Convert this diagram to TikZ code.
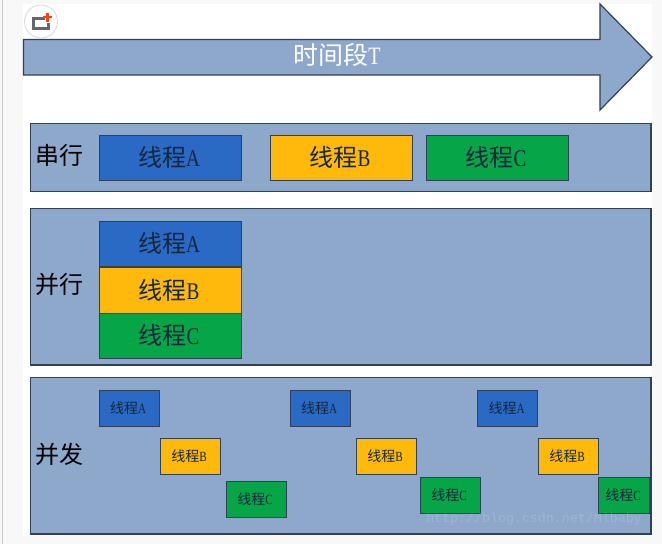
\documentclass[tikz,border=0pt]{standalone}
\usepackage{fontspec}
\setmainfont{Liberation Serif}
\newfontfamily\cjk{Noto Sans CJK SC}
\newfontfamily\wmfont{Liberation Mono}
\definecolor{pagebg}{HTML}{F8F8F8}
\definecolor{panel}{HTML}{8EA8CB}
\definecolor{edgeC}{HTML}{2F4058}
\definecolor{blueT}{HTML}{2A6AC4}
\definecolor{amberT}{HTML}{FFB90A}
\definecolor{greenT}{HTML}{06A548}
\definecolor{inkT}{HTML}{14263C}
\tikzset{
  x=1pt,y=-1pt,
  panelbox/.style={draw=edgeC,line width=1.2pt,fill=panel},
  tbox/.style={draw=edgeC,line width=1.1pt,minimum width=#1pt,inner sep=0pt,anchor=north west,text=inkT},
  big/.style={tbox=142,minimum height=45pt,font=\cjk\fontsize{24}{24}\selectfont},
  small/.style={tbox=60,minimum height=36pt,font=\cjk\fontsize{14}{14}\selectfont},
  tagtext/.style={font=\cjk\fontsize{24}{24}\selectfont,text=black,inner sep=0pt},
}
\newcommand{\ltr}[1]{\scalebox{0.8}[1]{\rmfamily #1}}
\newcommand{\shifted}[1]{\raisebox{1.5pt}{\kern-2pt #1}}
\begin{document}
\begin{tikzpicture}
\useasboundingbox (0,0) rectangle (662,544);
\fill[pagebg] (0,0) rectangle (662,544);
\fill[white] (23,4) rectangle (652,536);
\draw[black!22,line width=1pt] (2.5,0) -- (2.5,544);
% arrow
\draw[panelbox] (23.5,39.5) -- (600,39.5) -- (600,4) -- (652,57) -- (600,110) -- (600,75) -- (23.5,75) -- cycle;
\node[font=\cjk\fontsize{25}{25}\selectfont,text=white,inner sep=0pt] (title) at (337,55) {时间段\ltr{T}};
% icon
\fill[white,draw=black!15,line width=0.8pt] (41,21.5) circle (16.5);
\draw[black!60,line width=3pt] (45,18.5) -- (33.5,18.5) -- (33.5,28) -- (48,28) -- (48,23);
\draw[orange!50!red,line width=2.6pt] (47.5,12.5) -- (47.5,21.5) (43,17) -- (52,17);
% panels
\draw[panelbox] (30.5,123.5) rectangle (651,191.5);
\draw[panelbox] (30.5,208.5) rectangle (651,365);
\draw[panelbox] (30.5,377.5) rectangle (651,534);
% tags
\node[tagtext] (t1) at (59,155.5) {串行};
\node[tagtext] (t2) at (59,284.5) {并行};
\node[tagtext] (t3) at (59,454) {并发};
% serial
\node[big,fill=blueT] (s1) at (98.5,134.5) {\shifted{线程\ltr{A}}};
\node[big,fill=amberT] (s2) at (269.5,134.5) {\shifted{线程\ltr{B}}};
\node[big,fill=greenT] (s3) at (425.5,134.5) {\shifted{线程\ltr{C}}};
% parallel
\node[big,fill=blueT] (p1) at (98.5,220.5) {\shifted{线程\ltr{A}}};
\node[big,fill=amberT,minimum height=46pt] (p2) at (98.5,266.5) {\shifted{线程\ltr{B}}};
\node[big,fill=greenT] (p3) at (98.5,312.5) {\shifted{线程\ltr{C}}};
% concurrent
\node[small,fill=blueT] (c1) at (98.5,389.5) {\shifted{线程\ltr{A}}};
\node[small,fill=amberT] (c2) at (159.5,437.5) {\shifted{线程\ltr{B}}};
\node[small,fill=greenT] (c3) at (225.5,480.5) {\shifted{线程\ltr{C}}};
\node[small,fill=blueT] (c4) at (289.5,389.5) {\shifted{线程\ltr{A}}};
\node[small,fill=amberT] (c5) at (355.5,437.5) {\shifted{线程\ltr{B}}};
\node[small,fill=greenT] (c6) at (419.5,476.5) {\shifted{线程\ltr{C}}};
\node[small,fill=blueT] (c7) at (477,389.5) {\shifted{线程\ltr{A}}};
\node[small,fill=amberT] (c8) at (537.5,437.5) {\shifted{线程\ltr{B}}};
\node[small,fill=greenT,minimum width=51pt] (c9) at (598,476.5) {\shifted{线程\ltr{C}}};
% watermark
\node[font=\wmfont\fontsize{13.3}{13.3}\selectfont,text=white,opacity=0.15,inner sep=0pt] (wm) at (534,519) {http://blog.csdn.net/Mlbaby};
\end{tikzpicture}
\end{document}
